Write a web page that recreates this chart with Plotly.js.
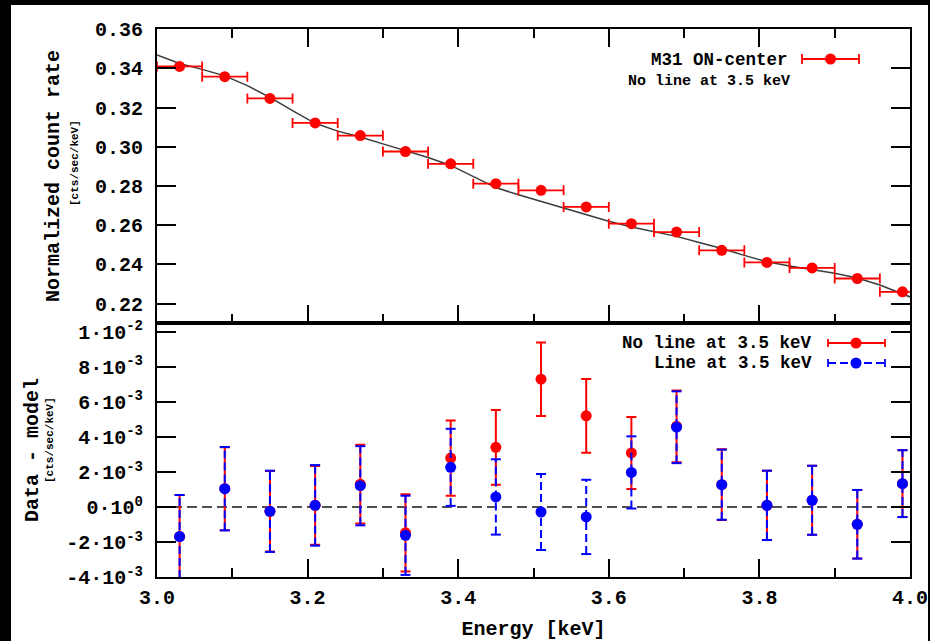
<!DOCTYPE html>
<html>
<head>
<meta charset="utf-8">
<script src="https://cdn.plot.ly/plotly-3.0.1.min.js"></script>
<style>
  html, body { margin: 0; padding: 0; background: #000; width: 930px; height: 641px; overflow: hidden; }
  #chart { position: absolute; left: 11px; top: 5px; width: 917px; height: 636px; background: #fff; }
</style>
</head>
<body>
<div id="chart"></div>
<script>
// ---- data ----
const energy = [3.03, 3.09, 3.15, 3.21, 3.27, 3.33, 3.39, 3.45, 3.51, 3.57, 3.63, 3.69, 3.75, 3.81, 3.87, 3.93, 3.99];
const binHalfWidth = [0.03, 0.03, 0.03, 0.03, 0.03, 0.03, 0.03, 0.03, 0.03, 0.03, 0.03, 0.03, 0.03, 0.03, 0.03, 0.03, 0.03];
const countRate = [0.3410, 0.3358, 0.3247, 0.3122, 0.3057, 0.2976, 0.2913, 0.2812, 0.2778, 0.2693, 0.2608, 0.2565, 0.2472, 0.2410, 0.2382, 0.2328, 0.2260];

const modelEnergy = [3.00, 3.03, 3.06, 3.09, 3.12, 3.15, 3.18, 3.21, 3.24, 3.27, 3.30, 3.33, 3.36, 3.39, 3.42, 3.45, 3.48, 3.51, 3.54, 3.57, 3.60, 3.63, 3.66, 3.69, 3.72, 3.75, 3.78, 3.81, 3.84, 3.87, 3.90, 3.93, 3.96, 4.00];
const modelRate = [0.3468, 0.3425, 0.3395, 0.3362, 0.3312, 0.3252, 0.3185, 0.3120, 0.3080, 0.3050, 0.3015, 0.2980, 0.2945, 0.2905, 0.2850, 0.2792, 0.2755, 0.2722, 0.2685, 0.2652, 0.2620, 0.2591, 0.2567, 0.2543, 0.2512, 0.2481, 0.2446, 0.2413, 0.2392, 0.2374, 0.2355, 0.2331, 0.2295, 0.2234];

const resNoLine = [-0.00169, 0.00104, -0.00025, 0.00009, 0.00130, -0.00148, 0.00279, 0.00340, 0.00729, 0.00520, 0.00308, 0.00460, 0.00127, 0.00009, 0.00038, -0.00099, 0.00133];
const errNoLine = [0.00237, 0.00237, 0.00230, 0.00225, 0.00225, 0.00220, 0.00215, 0.00214, 0.00210, 0.00210, 0.00206, 0.00205, 0.00202, 0.00198, 0.00197, 0.00196, 0.00191];
const resLine = [-0.00169, 0.00104, -0.00025, 0.00009, 0.00121, -0.00162, 0.00226, 0.00057, -0.00029, -0.00057, 0.00197, 0.00455, 0.00127, 0.00009, 0.00038, -0.00099, 0.00133];
const errLine = [0.00237, 0.00238, 0.00232, 0.00230, 0.00226, 0.00226, 0.00220, 0.00215, 0.00217, 0.00212, 0.00206, 0.00205, 0.00200, 0.00198, 0.00197, 0.00196, 0.00191];

const topTickVals = [0.22, 0.24, 0.26, 0.28, 0.30, 0.32, 0.34, 0.36];
const topTickText = ['0.22', '0.24', '0.26', '0.28', '0.30', '0.32', '0.34', '0.36'];
const resTickVals = [-0.004, -0.002, 0, 0.002, 0.004, 0.006, 0.008, 0.010];
const resTickText = ['-4·10<sup>-3</sup>', '-2·10<sup>-3</sup>', '0·10<sup>0</sup>', '2·10<sup>-3</sup>', '4·10<sup>-3</sup>', '6·10<sup>-3</sup>', '8·10<sup>-3</sup>', '1·10<sup>-2</sup>'];
const xTickVals = [3.0, 3.2, 3.4, 3.6, 3.8, 4.0];
const xTickText = ['3.0', '3.2', '3.4', '3.6', '3.8', '4.0'];

// ---- styling ----
const FAM = "'Liberation Mono', 'Courier New', monospace";
const RED = 'rgb(255,0,0)';
const BLUE = 'rgb(0,0,255)';
const PLOT_W = 753; // px width of plotting area (for cap size in data units)
const capHalf = 5 / PLOT_W;

// blue dashed error bars built from the residual arrays
const bx = [], by = [], cx = [], cy = [];
for (let i = 0; i < energy.length; i++) {
  bx.push(energy[i], energy[i], null);
  by.push(resLine[i] - errLine[i], resLine[i] + errLine[i], null);
  [resLine[i] - errLine[i], resLine[i] + errLine[i]].forEach(v => {
    cx.push(energy[i] - capHalf, energy[i] + capHalf, null);
    cy.push(v, v, null);
  });
}

const traces = [
  { x: modelEnergy, y: modelRate, xaxis: 'x2', yaxis: 'y2', mode: 'lines',
    line: { color: 'rgb(60,60,60)', width: 1.5 }, hoverinfo: 'skip' },
  { x: energy, y: countRate, xaxis: 'x2', yaxis: 'y2', mode: 'markers', name: 'M31 ON-center',
    marker: { color: RED, size: 11 },
    error_x: { type: 'data', array: binHalfWidth, color: RED, thickness: 1.8, width: 5 } },
  { x: energy, y: resNoLine, xaxis: 'x', yaxis: 'y', mode: 'markers', name: 'No line at 3.5 keV',
    marker: { color: RED, size: 11 },
    error_y: { type: 'data', array: errNoLine, color: RED, thickness: 2, width: 5 } },
  { x: bx, y: by, xaxis: 'x', yaxis: 'y', mode: 'lines', connectgaps: false,
    line: { color: BLUE, width: 2, dash: '8px,4px' }, hoverinfo: 'skip' },
  { x: cx, y: cy, xaxis: 'x', yaxis: 'y', mode: 'lines', connectgaps: false,
    line: { color: BLUE, width: 2 }, hoverinfo: 'skip' },
  { x: energy, y: resLine, xaxis: 'x', yaxis: 'y', mode: 'markers', name: 'Line at 3.5 keV',
    marker: { color: BLUE, size: 11 } }
];

const tickFont = { family: FAM, size: 20, color: '#000', weight: 'bold' };
const SPLIT = 0.4635;

const axisCommon = {
  showline: true, linecolor: '#000', linewidth: 2, showgrid: false, zeroline: false,
  ticks: 'inside', tickcolor: '#000', tickwidth: 2, tickfont: tickFont, fixedrange: true,
  ticklabeloverflow: 'allow'
};

function px2paperX(px) { return (px - 157) / PLOT_W; }
function px2paperY(py) { return (577 - py) / 548; }

const layout = {
  width: 917, height: 636,
  margin: { l: 146, r: 18, t: 24, b: 64, pad: 0 },
  paper_bgcolor: '#fff', plot_bgcolor: '#fff',
  showlegend: false,
  font: { family: FAM, color: '#000', weight: 'bold' },
  xaxis: Object.assign({}, axisCommon, {
    domain: [0, 1], anchor: 'y', range: [3.0, 4.0],
    tickmode: 'array', tickvals: xTickVals, ticktext: xTickText, ticklen: 18,
    minor: { ticks: 'inside', dtick: 0.1, tick0: 3.0, ticklen: 9, tickwidth: 2, tickcolor: '#000' },
    mirror: true, ticklabelstandoff: 1,
    title: { text: 'Energy [keV]', font: { family: FAM, size: 20, weight: 'bold', color: '#000' }, standoff: 21 }
  }),
  xaxis2: Object.assign({}, axisCommon, {
    domain: [0, 1], anchor: 'y2', matches: 'x', range: [3.0, 4.0],
    tickmode: 'array', tickvals: xTickVals, ticktext: xTickText, ticklen: 18, showticklabels: false,
    minor: { ticks: 'inside', dtick: 0.1, tick0: 3.0, ticklen: 9, tickwidth: 2, tickcolor: '#000' },
    mirror: 'ticks'
  }),
  yaxis: Object.assign({}, axisCommon, {
    domain: [0, SPLIT], anchor: 'x', range: [-0.004, 0.0105],
    tickmode: 'array', tickvals: resTickVals, ticktext: resTickText, ticklen: 19,
    mirror: 'ticks', ticklabelstandoff: 8,
    title: { text: 'Data - model', font: { family: FAM, size: 20, weight: 'bold', color: '#000' }, standoff: 22 }
  }),
  yaxis2: Object.assign({}, axisCommon, {
    domain: [SPLIT, 1], anchor: 'x2', range: [0.2101, 0.3601],
    tickmode: 'array', tickvals: topTickVals, ticktext: topTickText, ticklen: 19,
    mirror: 'ticks', ticklabelstandoff: 8,
    title: { text: 'Normalized count rate', font: { family: FAM, size: 20, weight: 'bold', color: '#000' }, standoff: 30 }
  }),
  shapes: [
    // zero reference line in residual panel
    { type: 'line', xref: 'paper', x0: 0, x1: 1, yref: 'y', y0: 0, y1: 0,
      line: { color: 'rgb(80,80,80)', width: 2, dash: '10px,5px' }, layer: 'below' },
    // legend key: top panel
    { type: 'line', xref: 'paper', yref: 'paper', x0: px2paperX(802), x1: px2paperX(859), y0: px2paperY(59), y1: px2paperY(59), line: { color: RED, width: 1.8 } },
    { type: 'line', xref: 'paper', yref: 'paper', ysizemode: 'pixel', yanchor: px2paperY(59), x0: px2paperX(802), x1: px2paperX(802), y0: -5, y1: 5, line: { color: RED, width: 1.8 } },
    { type: 'line', xref: 'paper', yref: 'paper', ysizemode: 'pixel', yanchor: px2paperY(59), x0: px2paperX(859), x1: px2paperX(859), y0: -5, y1: 5, line: { color: RED, width: 1.8 } },
    { type: 'circle', xref: 'paper', yref: 'paper', xsizemode: 'pixel', ysizemode: 'pixel', xanchor: px2paperX(830.5), yanchor: px2paperY(59), x0: -5.5, x1: 5.5, y0: -5.5, y1: 5.5, fillcolor: RED, line: { width: 0 } },
    // legend key: residual, no line
    { type: 'line', xref: 'paper', yref: 'paper', x0: px2paperX(828), x1: px2paperX(885), y0: px2paperY(343), y1: px2paperY(343), line: { color: RED, width: 1.8 } },
    { type: 'line', xref: 'paper', yref: 'paper', ysizemode: 'pixel', yanchor: px2paperY(343), x0: px2paperX(828), x1: px2paperX(828), y0: -4, y1: 4, line: { color: RED, width: 1.8 } },
    { type: 'line', xref: 'paper', yref: 'paper', ysizemode: 'pixel', yanchor: px2paperY(343), x0: px2paperX(885), x1: px2paperX(885), y0: -4, y1: 4, line: { color: RED, width: 1.8 } },
    { type: 'circle', xref: 'paper', yref: 'paper', xsizemode: 'pixel', ysizemode: 'pixel', xanchor: px2paperX(856), yanchor: px2paperY(343), x0: -5.5, x1: 5.5, y0: -5.5, y1: 5.5, fillcolor: RED, line: { width: 0 } },
    // legend key: residual, line
    { type: 'line', xref: 'paper', yref: 'paper', x0: px2paperX(828), x1: px2paperX(885), y0: px2paperY(363), y1: px2paperY(363), line: { color: BLUE, width: 1.8, dash: '8px,4px' } },
    { type: 'line', xref: 'paper', yref: 'paper', ysizemode: 'pixel', yanchor: px2paperY(363), x0: px2paperX(828), x1: px2paperX(828), y0: -4, y1: 4, line: { color: BLUE, width: 1.8 } },
    { type: 'line', xref: 'paper', yref: 'paper', ysizemode: 'pixel', yanchor: px2paperY(363), x0: px2paperX(885), x1: px2paperX(885), y0: -4, y1: 4, line: { color: BLUE, width: 1.8 } },
    { type: 'circle', xref: 'paper', yref: 'paper', xsizemode: 'pixel', ysizemode: 'pixel', xanchor: px2paperX(856), yanchor: px2paperY(363), x0: -5.5, x1: 5.5, y0: -5.5, y1: 5.5, fillcolor: BLUE, line: { width: 0 } }
  ],
  annotations: [
    { xref: 'paper', yref: 'paper', x: px2paperX(75), y: px2paperY(163), text: '[cts/sec/keV]', textangle: -90,
      showarrow: false, xanchor: 'center', yanchor: 'middle', font: { family: FAM, size: 11, weight: 'bold', color: '#000' } },
    { xref: 'paper', yref: 'paper', x: px2paperX(50), y: px2paperY(440), text: '[cts/sec/keV]', textangle: -90,
      showarrow: false, xanchor: 'center', yanchor: 'middle', font: { family: FAM, size: 11, weight: 'bold', color: '#000' } },
    { xref: 'paper', yref: 'paper', x: px2paperX(790), y: px2paperY(60), text: 'M31 ON-center',
      showarrow: false, xanchor: 'right', yanchor: 'middle', font: { family: FAM, size: 17.5, weight: 'bold', color: '#000' } },
    { xref: 'paper', yref: 'paper', x: px2paperX(792), y: px2paperY(81.5), text: 'No line at 3.5 keV',
      showarrow: false, xanchor: 'right', yanchor: 'middle', font: { family: FAM, size: 15, weight: 'bold', color: '#000' } },
    { xref: 'paper', yref: 'paper', x: px2paperX(814), y: px2paperY(343), text: 'No line at 3.5 keV',
      showarrow: false, xanchor: 'right', yanchor: 'middle', font: { family: FAM, size: 17.5, weight: 'bold', color: '#000' } },
    { xref: 'paper', yref: 'paper', x: px2paperX(814), y: px2paperY(363), text: 'Line at 3.5 keV',
      showarrow: false, xanchor: 'right', yanchor: 'middle', font: { family: FAM, size: 17.5, weight: 'bold', color: '#000' } }
  ]
};

Plotly.newPlot('chart', traces, layout, { displayModeBar: false, staticPlot: true });
</script>
</body>
</html>
